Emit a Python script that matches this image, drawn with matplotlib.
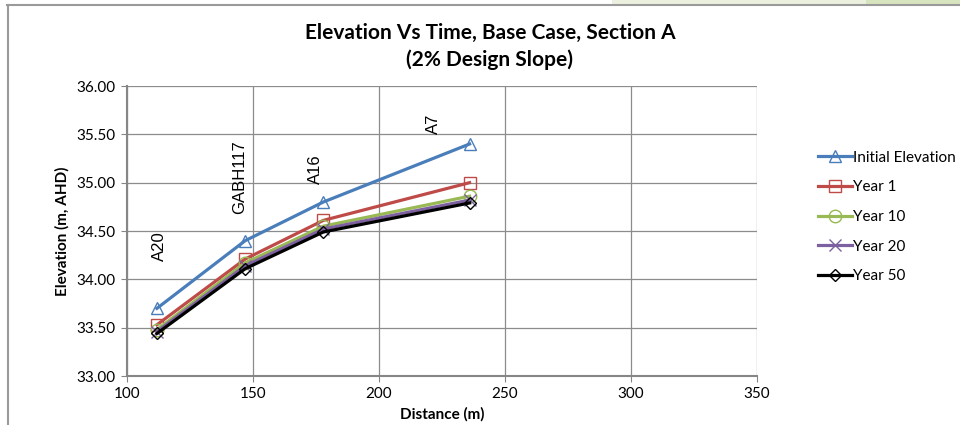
import matplotlib.pyplot as plt
from matplotlib.patches import Rectangle

plt.rcParams['font.family'] = ['Lato', 'DejaVu Sans']

# chainage of each bore along section A (m)
distance = [112, 147, 178, 236]
bore_labels = ['A20', 'GABH117', 'A16', 'A7']
label_x = [112.9, 144.9, 174.7, 221.5]
label_y = [34.34, 35.06, 35.14, 35.61]

initial = [33.70, 34.40, 34.80, 35.40]
year_1 = [33.53, 34.21, 34.61, 35.00]
year_10 = [33.48, 34.17, 34.55, 34.86]
year_20 = [33.46, 34.14, 34.52, 34.82]
year_50 = [33.44, 34.11, 34.49, 34.79]

series_names = ['Initial Elevation', 'Year 1', 'Year 10', 'Year 20', 'Year 50']
series_vals = [initial, year_1, year_10, year_20, year_50]
colors = ['#4A7EBB', '#BE4B48', '#98B954', '#7D60A0', '#000000']
markers = ['^', 's', 'o', 'x', 'D']
msizes = [9, 9, 9, 8, 6.5]

fig = plt.figure(figsize=(9.6, 4.25), dpi=100)

# chart frame bits (top border, left border, green strip top right)
fig.patches.append(Rectangle((612/960, 421/425), (866-612)/960, 4/425, transform=fig.transFigure,
                             facecolor='#EBF1DE', edgecolor='none', zorder=0))
fig.patches.append(Rectangle((866/960, 421/425), (960-866)/960, 4/425, transform=fig.transFigure,
                             facecolor='#D7E4BD', edgecolor='none', zorder=0))
fig.add_artist(plt.Line2D([7/960, 1], [420/425, 420/425], transform=fig.transFigure, color='#9A9A9A', lw=1.5))
fig.add_artist(plt.Line2D([7.5/960, 7.5/960], [0, 420/425], transform=fig.transFigure, color='#9A9A9A', lw=1.5))

ax = fig.add_axes([126.7/960, 49/425, 630.3/960, 290/425])

for name, vals, c, m, ms in zip(series_names, series_vals, colors, markers, msizes):
    if m == 'x':
        ax.plot(distance, vals, color=c, lw=2.3, marker=m, ms=ms, mec=c, mew=1.0, label=name, zorder=3)
    else:
        ax.plot(distance, vals, color=c, lw=2.3, marker=m, ms=ms, mfc='none', mec=c, mew=1.0,
                label=name, zorder=3)

for t, x, y in zip(bore_labels, label_x, label_y):
    ax.text(x, y, t, rotation=90, ha='center', va='center', fontsize=12,
            family=['Liberation Sans', 'DejaVu Sans'])

ax.set_xlim(100, 350)
ax.set_ylim(33, 36)
ax.set_xticks(range(100, 351, 50))
ax.set_yticks([33 + 0.5 * i for i in range(7)])
ax.set_yticklabels(['%.2f' % (33 + 0.5 * i) for i in range(7)])
ax.grid(True, color='#8C8C8C', lw=0.9)
ax.set_axisbelow(True)
for s in ['top', 'right']:
    ax.spines[s].set_visible(False)
for s in ['left', 'bottom']:
    ax.spines[s].set_color('#868686')
    ax.spines[s].set_linewidth(1.5)
ax.tick_params(direction='out', length=4, color='#868686', labelsize=11, pad=4)

ax.set_xlabel('Distance (m)', fontsize=11, fontweight='bold', labelpad=4)
ax.set_ylabel('Elevation (m, AHD)', fontsize=11, fontweight='bold', labelpad=5)

fig.text(490/960, 1 - 33/425, 'Elevation Vs Time, Base Case, Section A', ha='center', va='center',
         fontsize=15, fontweight='bold')
fig.text(490/960, 1 - 60/425, '(2% Design Slope)', ha='center', va='center',
         fontsize=15, fontweight='bold')

ax.legend(loc='center left', bbox_to_anchor=(812/960, 208/425), bbox_transform=fig.transFigure,
          frameon=False, fontsize=11, handlelength=2.2, handletextpad=0.1, labelspacing=1.02,
          borderaxespad=0)

fig.savefig('out.png', dpi=100)
